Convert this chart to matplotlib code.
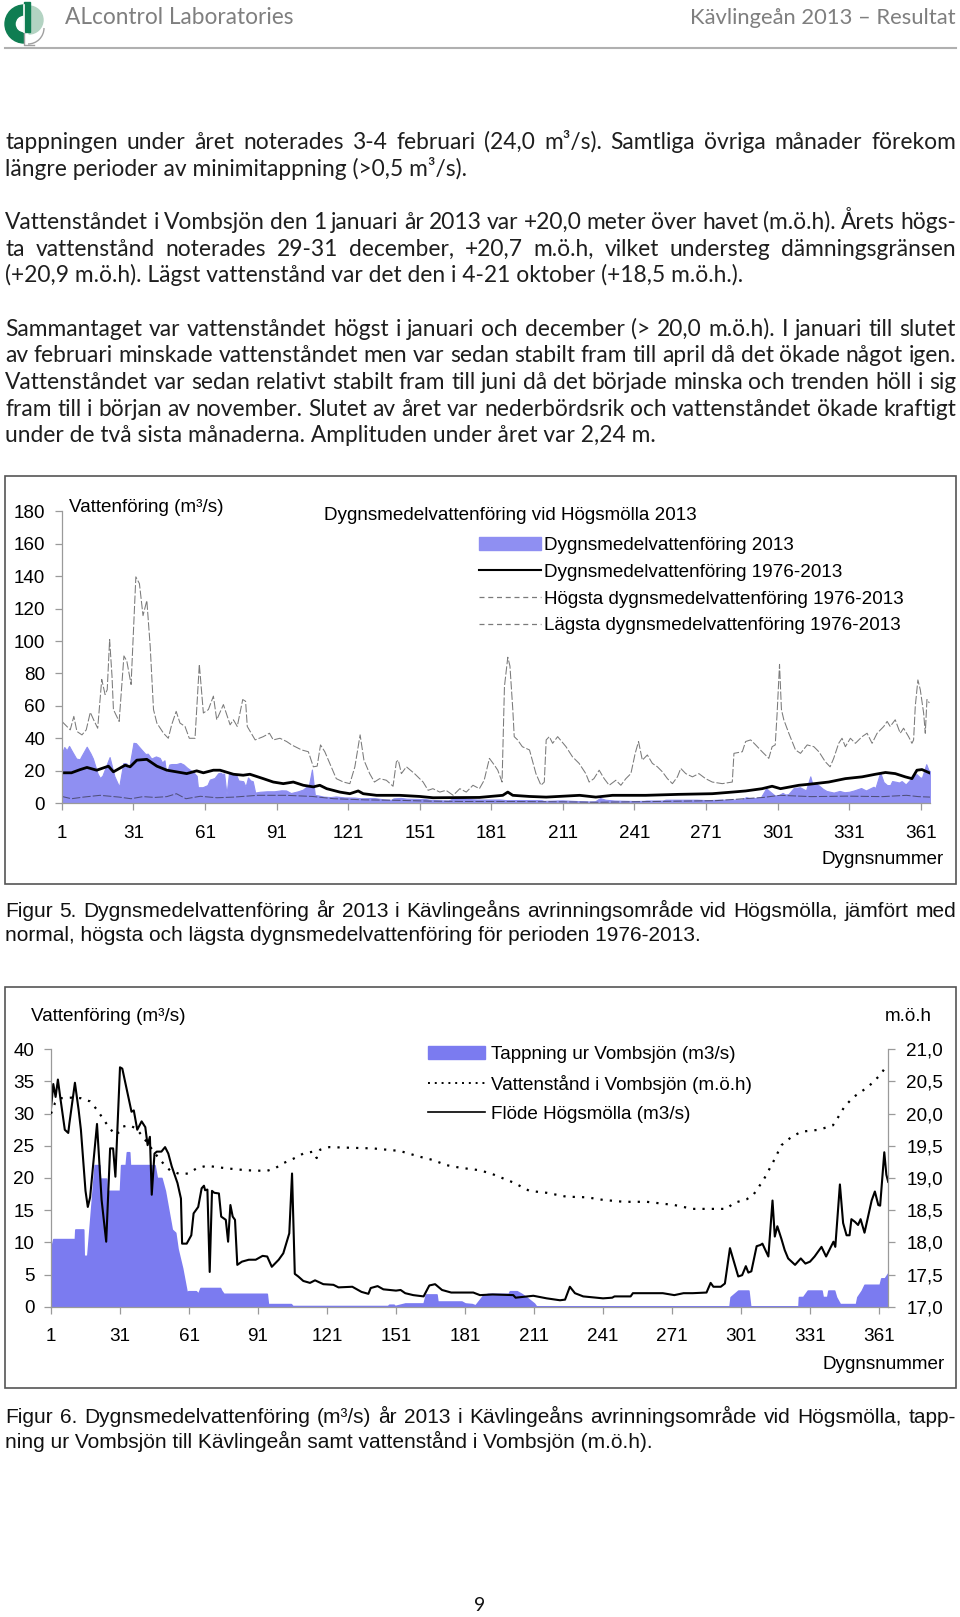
import matplotlib
matplotlib.use('Agg')
import matplotlib.pyplot as plt
from matplotlib.patches import Rectangle, Wedge, Patch, Arc
from matplotlib.lines import Line2D

# --- data (day number, value) ---
# Flöde Högsmölla 2013 (m3/s), also the blue area in Figur 5
flow_days = [1, 2, 3, 4, 5, 7, 8.5, 9, 11.4, 13, 14, 16, 17, 18, 21, 23, 25, 26.7, 28, 29,
             31, 32, 34.6, 36, 37, 38.5, 40.4, 42, 43, 44, 44.8, 46, 47, 49, 50.6, 52, 53.5, 56, 57.5, 58,
             60, 62, 63, 65, 66.5, 67.5, 68, 69, 70, 71, 72, 74, 75, 77, 78, 79, 80, 81, 82, 84,
             87, 90, 93, 95, 97, 100, 102, 104.6, 105.8, 107, 108.5, 110.7, 113.6, 115.8, 119.4, 123.8, 126, 132, 136, 139,
             140, 143, 145.5, 151, 153, 155, 158.5, 163, 165.5, 168, 171, 175, 184.6, 187.5, 193, 202, 203, 210.7, 216.5, 222.3,
             224.5, 226.6, 228.8, 232.4, 241, 245, 246, 253, 254, 267, 272, 276, 280, 286, 287.8, 289, 292.2, 294, 296.2, 297.9,
             299.8, 301.5, 303.1, 304.2, 305.5, 307.8, 309.5, 310.3, 312.9, 314.7, 315.7, 316.8, 318.6, 320, 321.5, 324.5, 327, 329, 331, 333,
             336, 338, 341.2, 342, 344, 345.4, 346.9, 348.2, 349, 350.5, 351.9, 353, 354.7, 357.8, 359.2, 360.7, 361.5, 363.3, 364.2, 365]
flow_2013 = [30.8, 34.6, 32.6, 35.3, 32.6, 27.5, 27.0, 28.5, 34.8, 30.6, 27.5, 18.0, 15.5, 17.0, 28.4, 16.6, 10.1, 24.6, 24.6, 20.2,
             37.2, 37.0, 32.6, 30.3, 30.5, 27.5, 28.8, 27.9, 25.1, 26.4, 17.4, 23.8, 24.1, 24.1, 24.8, 23.8, 21.8, 19.2, 16.8, 9.8,
             9.8, 11.1, 14.5, 15.5, 18.4, 18.8, 18.1, 18.2, 5.4, 18.0, 17.7, 17.6, 14.0, 13.5, 10.1, 15.8, 14.0, 13.5, 6.5, 7.0,
             7.3, 7.3, 7.9, 7.8, 6.2, 7.3, 8.3, 11.4, 20.7, 5.1, 4.7, 4.0, 3.7, 4.1, 3.5, 3.4, 3.0, 3.1, 2.3, 2.0,
             2.9, 3.2, 2.7, 2.5, 2.6, 2.1, 1.8, 1.6, 3.3, 3.5, 2.6, 2.2, 2.2, 1.8, 1.9, 1.8, 1.4, 1.7, 1.3, 1.0,
             1.1, 3.1, 2.1, 1.6, 1.3, 1.4, 1.6, 1.6, 2.1, 2.1, 1.8, 2.1, 2.1, 2.2, 3.7, 3.1, 3.1, 3.6, 9.1, 7.0,
             4.7, 4.9, 6.3, 5.3, 5.5, 9.4, 9.6, 9.8, 7.8, 16.5, 10.9, 12.5, 10.5, 8.8, 7.5, 6.5, 7.5, 6.7, 7.0, 7.8,
             9.3, 7.8, 10.1, 9.3, 19.0, 13.0, 11.1, 11.1, 13.6, 13.2, 12.7, 13.6, 11.5, 16.5, 17.9, 15.8, 15.7, 24.0, 20.5, 19.4]

# Dygnsmedelvattenföring 1976-2013
mean_days = [1, 5, 8.7, 11.5, 15.6, 20.5, 22.6, 27.5, 29.6, 32.4, 36.6, 40.8, 45, 49, 53.3, 57.5, 60.3, 64.5, 67.3, 72.9,
             77, 79.8, 85.4, 89.6, 93.8, 98, 102.2, 106.4, 109.1, 112, 117.5, 121.7, 125.2, 127.3, 132.9, 142.6, 151, 156.6, 176, 185.8,
             187.9, 190, 197, 204, 218, 224.8, 231.8, 245.7, 259.7, 273.6, 282, 287.6, 294.5, 298.7, 302.2, 309.9, 314, 322.4, 329.4, 336.4,
             342, 346.2, 350.3, 354.5, 357.3, 359.4, 361.5, 364.6]
mean_flow = [18.7, 18.7, 20.7, 22.0, 20.3, 22.8, 19.3, 23.4, 22.4, 26.5, 27.0, 22.8, 20.3, 19.3, 18.2, 19.9, 18.7, 20.3, 20.3, 17.8,
             17.2, 17.8, 15.1, 13.0, 12.0, 13.0, 11.0, 10.0, 11.0, 8.9, 6.8, 5.8, 7.5, 5.8, 4.8, 4.8, 4.1, 3.3, 3.5, 4.8,
             6.8, 4.8, 4.1, 3.7, 4.8, 3.7, 4.8, 4.8, 5.4, 5.8, 6.8, 7.5, 8.9, 10.4, 8.9, 11.0, 11.6, 13.0, 15.1, 16.2,
             17.8, 18.9, 18.2, 16.2, 15.1, 20.3, 20.7, 18.7]

# Högsta dygnsmedelvattenföring 1976-2013
max_days = [1, 4.5, 6, 7.3, 9.4, 11.2, 12.9, 14.3, 16, 17.7, 19.1, 20, 21, 22, 22.6, 25, 27, 28.2, 30, 32,
            33.5, 35, 36.6, 38, 39.4, 40.8, 43.6, 45.6, 47, 48.9, 50.5, 52.6, 54.4, 56.8, 58.6, 60.3, 62.4, 64.5, 65.9, 68.7,
            71.5, 72.9, 74.5, 76.8, 78, 78.7, 82, 85.4, 88, 89.6, 92.4, 95.2, 97.3, 101.5, 104.3, 106.4, 108, 109.4, 111.2, 113.3,
            116, 119, 121.7, 123.8, 126, 127.6, 130, 132, 134.2, 137, 139.8, 141.2, 142, 143.3, 145.4, 148.8, 152.4, 154.5, 156.5, 159.4,
            162, 165, 167.8, 170.5, 173.3, 176, 178, 180.2, 182.3, 183.7, 185.5, 186.5, 187.9, 188.8, 190, 190.6, 192, 194,
            197, 199.7, 201.8, 203.2, 204, 205.3, 206.7, 208.8, 212.3, 215, 217.8, 220.6, 222, 224, 226.2, 228.3, 230.4, 233.2, 235.3, 237.4,
            239.5, 241.3, 242.7, 244.3, 246.4, 248.5, 250.6, 252.7, 254.8, 256.9, 259, 260.4, 262.5, 265.3, 268, 270.8, 273.6, 277.8, 282, 282.7,
            286.2, 287.6, 289.7, 291.8, 294.5, 297.3, 298.7, 300, 300.8, 301.8, 302.6, 303.6, 305.7, 308.5, 310.6, 313.4, 316.2, 318.3, 321, 323,
            324.5, 326.6, 328, 329.4, 331.5, 333.6, 336.4, 338.5, 340.6, 342.7, 345.5, 346.9, 348.2, 350.3, 352.4, 353.8, 355.9, 357.3, 358, 358.7,
            359.8, 360.8, 362.2, 362.9, 363.6, 364.6]
max_flow = [50.4, 45.2, 53.5, 44.2, 42.1, 45.2, 56.0, 51.4, 46.2, 76.3, 67.0, 70.0, 101.0, 78.4, 57.7, 50.4, 90.8, 87.7, 73.2, 139.6,
            135.4, 115.7, 125.0, 97.0, 57.7, 49.4, 43.1, 40.0, 48.3, 56.6, 49.4, 47.3, 40.0, 40.0, 85.6, 55.6, 57.7, 66.0, 51.4, 60.8,
            48.3, 51.4, 47.3, 63.9, 62.8, 47.3, 39.0, 41.0, 43.1, 39.0, 40.0, 38.0, 35.9, 32.8, 31.7, 22.4, 22.8, 35.9, 31.7, 24.5,
            15.1, 13.0, 12.0, 22.4, 42.1, 26.5, 18.2, 13.0, 15.1, 14.1, 10.4, 25.5, 26.5, 18.2, 22.4, 18.2, 13.0, 7.9, 8.9, 6.8,
            7.9, 4.8, 8.9, 6.8, 11.0, 8.9, 14.1, 27.6, 23.4, 20.3, 13.0, 72.0, 90.0, 84.6, 57.7, 41.0, 39.0, 34.8,
            32.8, 18.2, 11.0, 13.0, 39.0, 41.0, 36.9, 41.0, 34.8, 28.6, 24.5, 18.2, 13.0, 15.1, 20.3, 15.1, 11.0, 14.1, 11.0, 15.1,
            18.2, 30.7, 38.0, 26.5, 29.7, 24.5, 22.4, 19.3, 15.1, 12.0, 16.2, 21.4, 18.2, 16.2, 18.2, 15.1, 13.0, 12.0, 13.0, 30.7,
            31.7, 38.0, 39.0, 35.9, 31.7, 27.6, 34.8, 35.9, 55.6, 85.6, 57.7, 51.4, 43.1, 32.8, 30.7, 35.9, 34.8, 31.7, 25.5, 22.4,
            27.6, 36.9, 40.0, 34.8, 40.0, 36.9, 41.0, 43.1, 36.9, 43.1, 47.3, 50.4, 47.3, 51.4, 43.1, 46.2, 41.0, 36.9, 39.0, 59.7,
            76.0, 70.0, 55.6, 43.1, 63.9, 61.8]

# Lägsta dygnsmedelvattenföring 1976-2013
min_days = [1, 5, 10, 17, 25, 30, 35, 40, 45, 49, 53, 59, 66, 73, 83, 95, 106, 115, 128, 142,
            156, 170, 190, 210, 225, 240, 260, 275, 285, 295, 302, 315, 330, 345, 355, 360, 365]
min_flow = [4.1, 2.7, 3.7, 4.8, 3.7, 2.7, 4.0, 3.5, 4.0, 5.8, 2.7, 4.2, 3.3, 3.7, 4.8, 4.8, 4.1, 2.7, 2.0, 1.7,
            1.2, 1.0, 1.0, 0.8, 0.5, 0.8, 1.2, 1.5, 2.5, 3.5, 4.8, 4.0, 4.3, 4.0, 4.8, 4.0, 3.7]

# Tappning ur Vombsjön (m3/s)
release_days = [1, 2, 11.4, 11.6, 15, 15.2, 16.8, 20, 22, 22.3, 25, 25.2, 31, 31.5, 33.5, 34, 35, 35.3, 44.5, 44.8,
                45.2, 46, 47, 49, 50.5, 53.5, 55, 56, 58, 60, 60.7, 64, 65, 66, 74.5, 75, 76, 94.8, 95.3, 105.3,
                106, 147.5, 148, 150, 150.5, 155, 163, 164, 168.6, 169, 179.5, 181, 184, 185.5, 189, 191, 200, 200.5, 203.5, 205.5,
                207.5, 211, 212, 296, 296.5, 299.8, 304.2, 305, 326, 326.2, 328, 330, 336, 336.5, 338.5, 339, 341.5, 342.3, 344, 351,
                351.6, 353.5, 354.7, 361.3, 362, 363.5, 365]
release_flow = [8.8, 10.5, 10.5, 12.0, 12.0, 7.9, 7.9, 22.0, 22.0, 19.9, 19.9, 18.0, 18.0, 22.0, 22.0, 24.0, 24.0, 22.0, 22.0, 6.7,
                22.0, 22.0, 20.0, 20.0, 18.0, 12.0, 11.5, 9.0, 6.0, 2.2, 2.4, 2.4, 2.0, 2.9, 2.9, 2.5, 2.0, 2.0, 0.4, 0.4,
                0.1, 0.1, 0.3, 0.3, 0.1, 0.5, 0.5, 1.9, 1.9, 0.8, 0.8, 0.5, 0.4, 0.2, 1.8, 2.0, 2.0, 2.4, 2.4, 2.0,
                1.5, 0.5, 0.0, 0.0, 1.5, 2.5, 2.5, 0.0, 0.0, 1.5, 1.5, 2.5, 2.5, 1.5, 1.5, 2.5, 2.5, 1.5, 0.4, 0.4,
                1.5, 2.5, 3.4, 3.4, 4.4, 4.4, 5.2]

# Vattenstånd i Vombsjön (m.ö.h)
level_days = [1, 2.7, 5, 10.7, 14, 18, 21, 25, 28.8, 31, 32.4, 35, 38, 41, 44, 48.4, 52.7, 57, 60.7, 64.3,
              68.7, 77.4, 86, 94.8, 98.4, 102, 106.4, 110.7, 115, 116.5, 118, 122, 131, 141, 152.7, 161.4, 167, 172.9, 178.8, 187.5,
              193, 202, 209, 216.5, 225, 234, 241, 250, 260, 272, 280, 289, 294.8, 297.7, 303.5, 306.4, 310.8, 315, 318.6, 323,
              327.3, 335, 341, 343, 346, 350, 356.4, 361.5, 364.6]
level_m = [20.00, 20.16, 20.24, 20.25, 20.24, 20.19, 20.06, 19.85, 19.67, 19.72, 19.80, 19.82, 19.77, 19.64, 19.49, 19.28, 19.12, 19.06, 19.07, 19.15,
           19.19, 19.15, 19.12, 19.11, 19.15, 19.23, 19.30, 19.38, 19.41, 19.31, 19.44, 19.48, 19.47, 19.46, 19.42, 19.33, 19.28, 19.20, 19.16, 19.12,
           19.06, 18.93, 18.80, 18.77, 18.71, 18.70, 18.66, 18.63, 18.63, 18.58, 18.52, 18.52, 18.52, 18.61, 18.67, 18.74, 18.97, 19.25, 19.51, 19.64,
           19.72, 19.75, 19.82, 19.93, 20.11, 20.26, 20.42, 20.60, 20.76]

day_ticks = list(range(1, 362, 30))
flow_ticks1 = list(range(0, 181, 20))
flow_ticks2 = list(range(0, 41, 5))
level_ticks = [17.0, 17.5, 18.0, 18.5, 19.0, 19.5, 20.0, 20.5, 21.0]

# --- page layout in pixels ---
W, H = 960, 1617
fig = plt.figure(figsize=(W / 100, H / 100), dpi=100)
rend = fig.canvas.get_renderer()
plt.rcParams['font.family'] = ['Liberation Sans', 'DejaVu Sans']

BODY = dict(family=['Lato', 'DejaVu Sans'], size=16.4, color='#1e1e1e')
CAP = dict(family=['Liberation Sans', 'DejaVu Sans'], size=15, color='#111111')
CH = 13.6
BLUE1 = '#8F8FF2'
BLUE2 = '#7B7BF0'
AXC = '#9a9a9a'


def fx(x):
    return x / W


def fy(y):
    return 1 - y / H


def put(s, x, y, **kw):
    return fig.text(fx(x), fy(y), s, **kw)


def justify(s, x0, x1, y, **kw):
    words = s.split()
    arts = [put(w, x0, y, va='baseline', **kw) for w in words]
    widths = [a.get_window_extent(rend).width for a in arts]
    gap = max((x1 - x0 - sum(widths)) / (len(words) - 1), 2)
    x = x0
    for a, w in zip(arts, widths):
        a.set_x(fx(x))
        x += w + gap


def box(x0, y0, x1, y1):
    fig.add_artist(Rectangle((fx(x0), fy(y1)), fx(x1) - fx(x0), fy(y0) - fy(y1),
                             transform=fig.transFigure, fill=False, ec='#555555', lw=1.2))


# header with logo (drawn in page pixels, y downwards)
lg = fig.add_axes([0, fy(55), 60 / W, 55 / H])
lg.set_xlim(0, 60); lg.set_ylim(55, 0); lg.axis('off')
lg.add_patch(Arc((28, 28), 32, 32, theta1=0, theta2=90, color='#a0a0a0', lw=1))
lg.plot([24, 24, 34], [32, 45, 45], color='#a0a0a0', lw=1)
lg.add_patch(Wedge((29, 20), 14, -90, 90, color='#b3d3c2'))
lg.add_patch(Wedge((24, 24), 19, 90, 270, width=10, color='#0f7d52'))
lg.add_patch(Rectangle((24, 2), 6, 30, color='#0f7d52'))
lg.plot([23.5, 23.5], [5, 32], color='white', lw=1.2)
put('ALcontrol Laboratories', 65, 24, family=['Lato', 'DejaVu Sans'], size=16.3, color='#7f7f7f', va='baseline')
put('Kävlingeån 2013 – Resultat', 956, 24, family=['Lato', 'DejaVu Sans'], size=15.8, color='#7f7f7f',
    va='baseline', ha='right')
fig.add_artist(Line2D([fx(5), fx(956)], [fy(48.5), fy(48.5)], transform=fig.transFigure, color='#b0b0b0', lw=1.5))

# body text
L, R = 5.2, 956
justify('tappningen under året noterades 3-4 februari (24,0 m³/s). Samtliga övriga månader förekom', L, R, 149, **BODY)
put('längre perioder av minimitappning (>0,5 m³/s).', L, 175.5, va='baseline', **BODY)
justify('Vattenståndet i Vombsjön den 1 januari år 2013 var +20,0 meter över havet (m.ö.h). Årets högs-', L, R, 229, **BODY)
justify('ta vattenstånd noterades 29-31 december, +20,7 m.ö.h, vilket understeg dämningsgränsen', L, R, 256, **BODY)
put('(+20,9 m.ö.h). Lägst vattenstånd var det den i 4-21 oktober (+18,5 m.ö.h.).', L, 282.5, va='baseline', **BODY)
justify('Sammantaget var vattenståndet högst i januari och december (> 20,0 m.ö.h). I januari till slutet', L, R, 336, **BODY)
justify('av februari minskade vattenståndet men var sedan stabilt fram till april då det ökade något igen.', L, R, 362.5, **BODY)
justify('Vattenståndet var sedan relativt stabilt fram till juni då det började minska och trenden höll i sig', L, R, 389, **BODY)
justify('fram till i början av november. Slutet av året var nederbördsrik och vattenståndet ökade kraftigt', L, R, 415.5, **BODY)
put('under de två sista månaderna. Amplituden under året var 2,24 m.', L, 442, va='baseline', **BODY)


def style_axis(ax, pad, xpad):
    ax.set_facecolor('none')
    for s in ('top', 'right'):
        ax.spines[s].set_visible(False)
    for s in ('left', 'bottom'):
        ax.spines[s].set_color(AXC)
        ax.spines[s].set_linewidth(0.9)
    ax.tick_params(axis='y', length=5, width=0.9, color=AXC, labelsize=CH, pad=pad)
    ax.tick_params(axis='x', length=5, width=0.9, color=AXC, labelsize=CH, pad=xpad)


# ---------------- Figur 5 ----------------
box(5.2, 476.3, 955.8, 883.6)
ax1 = fig.add_axes([fx(61.9), fy(803.1), fx(930.3) - fx(61.9), fy(511.4) - fy(803.1)])
ax1.fill_between(flow_days, flow_2013, color=BLUE1, lw=0.8, ec=BLUE1)
ax1.plot(max_days, max_flow, color='#7a7a7a', lw=0.75, dashes=(8, 2))
ax1.plot(min_days, min_flow, color='#50507a', lw=0.75, dashes=(8, 2))
ax1.plot(mean_days, mean_flow, color='black', lw=2)
ax1.set_xlim(1, 365)
ax1.set_ylim(0, 180)
ax1.set_xticks(day_ticks)
ax1.set_yticks(flow_ticks1)
style_axis(ax1, 7, 11)
put('Vattenföring (m³/s)', 69, 507, size=CH, va='center')
put('Dygnsmedelvattenföring vid Högsmölla 2013', 323.7, 515, size=CH, va='center')
put('Dygnsnummer', 943.5, 859, size=CH, va='center', ha='right')
h1 = [Patch(color=BLUE1),
      Line2D([], [], color='black', lw=1.5),
      Line2D([], [], color='#7a7a7a', lw=0.9, dashes=(4, 3)),
      Line2D([], [], color='#7a7a7a', lw=0.9, dashes=(4, 3))]
ax1.legend(h1, ['Dygnsmedelvattenföring 2013', 'Dygnsmedelvattenföring 1976-2013',
                'Högsta dygnsmedelvattenföring 1976-2013', 'Lägsta dygnsmedelvattenföring 1976-2013'],
           loc='upper left', bbox_to_anchor=(fx(479), fy(537)), bbox_transform=fig.transFigure,
           frameon=False, fontsize=CH, handlelength=3.28, handletextpad=0.17, labelspacing=0.5,
           borderpad=0, borderaxespad=0)
justify('Figur 5. Dygnsmedelvattenföring år 2013 i Kävlingeåns avrinningsområde vid Högsmölla, jämfört med',
        L, R, 916.5, **CAP)
put('normal, högsta och lägsta dygnsmedelvattenföring för perioden 1976-2013.', L, 941, va='baseline', **CAP)

# ---------------- Figur 6 ----------------
box(5.2, 986.7, 955.8, 1387.8)
ax2 = fig.add_axes([fx(51), fy(1306.7), fx(888.2) - fx(51), fy(1049.3) - fy(1306.7)])
ax2.fill_between(release_days, release_flow, color=BLUE2, lw=1.2, ec=BLUE2)
ax2.plot(flow_days, flow_2013, color='black', lw=1.5)
ax2.set_xlim(1, 365)
ax2.set_ylim(0, 40)
ax2.set_xticks(day_ticks)
ax2.set_yticks(flow_ticks2)
style_axis(ax2, 7, 10)
ax2r = ax2.twinx()
ax2r.plot(level_days, level_m, color='black', lw=1.6, dashes=(1, 3.2))
ax2r.set_ylim(17, 21)
ax2r.set_yticks(level_ticks)
ax2r.set_yticklabels([f'{v:.1f}'.replace('.', ',') for v in level_ticks])
for s in ('top', 'left', 'bottom'):
    ax2r.spines[s].set_visible(False)
ax2r.spines['right'].set_color(AXC)
ax2r.spines['right'].set_linewidth(0.9)
ax2r.tick_params(axis='y', length=5, width=0.9, color=AXC, labelsize=CH, pad=8)
put('Vattenföring (m³/s)', 31, 1016.5, size=CH, va='center')
put('m.ö.h', 884.6, 1016.5, size=CH, va='center')
put('Dygnsnummer', 944.4, 1364, size=CH, va='center', ha='right')
h2 = [Patch(color=BLUE2),
      Line2D([], [], color='black', lw=1.4, dashes=(1, 2.5)),
      Line2D([], [], color='black', lw=1.2)]
ax2.legend(h2, ['Tappning ur Vombsjön (m3/s)', 'Vattenstånd i Vombsjön (m.ö.h)', 'Flöde Högsmölla (m3/s)'],
           loc='upper left', bbox_to_anchor=(fx(428), fy(1046)), bbox_transform=fig.transFigure,
           frameon=False, fontsize=CH, handlelength=3.0, handletextpad=0.32, labelspacing=0.62,
           borderpad=0, borderaxespad=0)
justify('Figur 6. Dygnsmedelvattenföring (m³/s) år 2013 i Kävlingeåns avrinningsområde vid Högsmölla, tapp-',
        L, R, 1422.5, **CAP)
put('ning ur Vombsjön till Kävlingeån samt vattenstånd i Vombsjön (m.ö.h).', L, 1447.5, va='baseline', **CAP)

# page number
put('9', 479.5, 1611, family=['Lato', 'DejaVu Sans'], size=14, color='#111111', va='baseline', ha='center')

fig.savefig('out.png', dpi=100)
